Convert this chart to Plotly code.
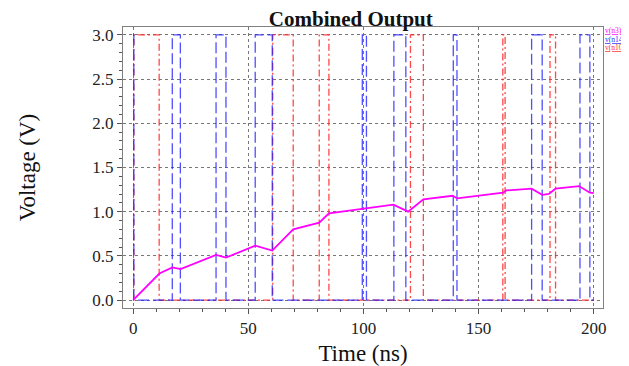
import plotly.graph_objects as go

# v(n3): combined output (ns, V)
n3_time = [0, 11.4, 17, 20.6, 36, 40.3, 53, 60.4, 69.5, 80.8, 85, 101.3, 113, 119.4,
           126, 138.7, 140.7, 160.6, 162, 173, 177.6, 180.5, 183.4, 193.6, 198.3, 200]
n3_volt = [0, 0.30, 0.37, 0.35, 0.51, 0.48, 0.615, 0.56, 0.80, 0.875, 0.98, 1.04, 1.08, 1.00,
           1.14, 1.18, 1.15, 1.215, 1.24, 1.26, 1.19, 1.20, 1.26, 1.29, 1.215, 1.21]

# v(n14): step waveform, transition times and levels held after each time
n14_time = [0, 0.3, 17, 20.5, 36, 40.3, 53, 60.4, 99.5, 101.3, 113.2, 118.4,
            139, 140.6, 173, 177.6, 194, 198.3, 200]
n14_volt = [3, 0, 3, 0, 3, 0, 3, 0, 3, 0, 3, 0, 3, 0, 3, 0, 3, 0, 0]

# v(n10): step waveform
n10_time = [0, 0.3, 11.3, 60.6, 69.5, 80.8, 85, 120.4, 126, 160.5, 161.5, 181, 183.4, 200]
n10_volt = [0, 3, 0, 3, 0, 3, 0, 3, 0, 3, 0, 3, 0, 0]

x_ticks = [0, 50, 100, 150, 200]
y_ticks = [0.0, 0.5, 1.0, 1.5, 2.0, 2.5, 3.0]

serif = "Liberation Serif, Times New Roman, serif"

fig = go.Figure()
fig.add_trace(go.Scatter(x=n10_time, y=n10_volt, mode="lines", line_shape="hv",
                         name="v(n10)",
                         line=dict(color="rgba(255,40,40,0.85)", width=1.3,
                                   dash="7px,3px,2px,3px")))
fig.add_trace(go.Scatter(x=n14_time, y=n14_volt, mode="lines", line_shape="hv",
                         name="v(n14)",
                         line=dict(color="rgba(30,30,255,0.78)", width=1.3,
                                   dash="11px,4px")))
fig.add_trace(go.Scatter(x=n3_time, y=n3_volt, mode="lines", name="v(n3)",
                         line=dict(color="#ff00ff", width=1.8)))

axis_common = dict(
    showline=True, linecolor="#808080", linewidth=1, mirror=True,
    ticks="outside", ticklen=5, tickcolor="#555", tickwidth=1,
    showgrid=True, gridcolor="#777", griddash="dot", gridwidth=1,
    zeroline=False, automargin=False,
    tickfont=dict(family=serif, size=17, color="#222"),
)

fig.update_xaxes(range=[-4.4, 204], tickvals=x_ticks,
                 minor=dict(dtick=10, ticks="outside", ticklen=3, tickcolor="#555", showgrid=False),
                 title=dict(text="Time (ns)", font=dict(family=serif, size=23, color="#111"),
                            standoff=13),
                 **axis_common)
fig.update_yaxes(range=[-0.09, 3.09], tickvals=y_ticks, tickformat=".1f",
                 minor=dict(dtick=0.1, ticks="outside", ticklen=3, tickcolor="#555", showgrid=False),
                 title=dict(text="Voltage (V)", font=dict(family=serif, size=23, color="#111"),
                            standoff=50),
                 **axis_common)

legend_items = [("v(n3)", "#ff00ff"), ("v(n14)", "#3030ff"), ("v(n10)", "#ff3030")]
for i, (label, color) in enumerate(legend_items):
    fig.add_annotation(x=1.0, y=1.0 - i * 0.031, xref="paper", yref="paper",
                       xanchor="left", yanchor="top", showarrow=False, xshift=1, yshift=2,
                       align="left", borderpad=0,
                       text=f"<u>{label}</u>",
                       font=dict(family=serif, size=7.5, color=color))

fig.update_layout(
    width=621, height=358,
    margin=dict(l=115, r=26, t=19, b=58, autoexpand=False),
    paper_bgcolor="white", plot_bgcolor="white",
    showlegend=False,
    title=dict(text="<b>Combined Output</b>", x=0.552, xanchor="center", y=0.97, yanchor="middle",
               automargin=False,
               font=dict(family=serif, size=21, color="#111")),
)

fig.write_html("out.html")
